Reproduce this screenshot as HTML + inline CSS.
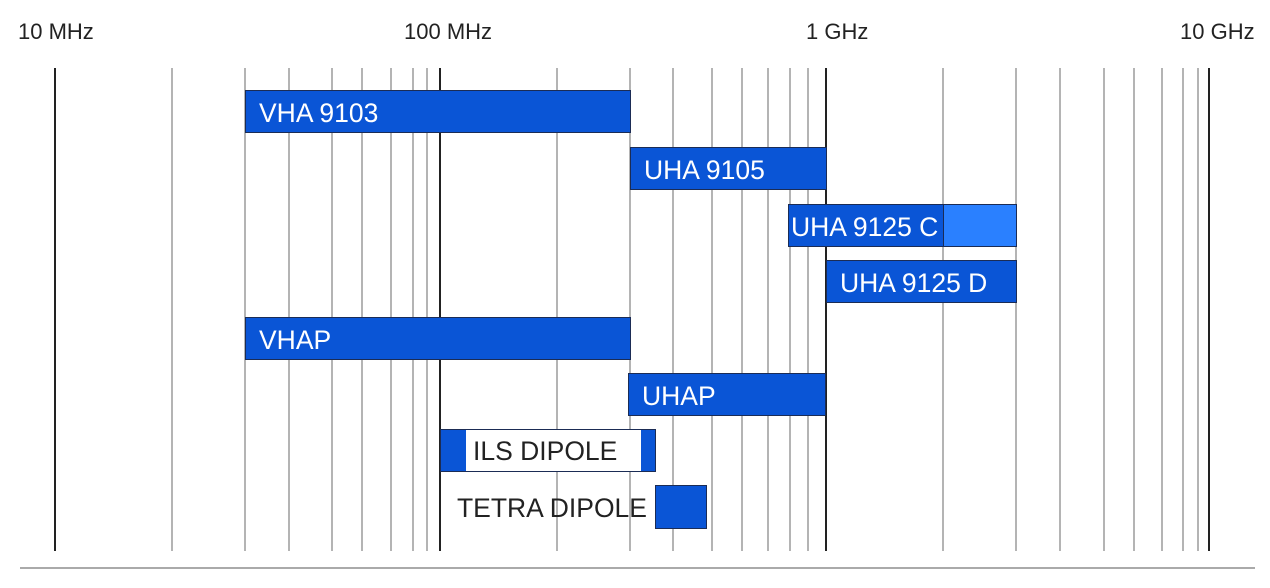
<!DOCTYPE html>
<html><head><style>
body{margin:0;width:1270px;height:588px;background:#fff;overflow:hidden;position:relative;font-family:"Liberation Sans",Arial,sans-serif}
.g{position:absolute;top:68px;height:483px;width:2px;background:#b4b4b4}
.d{background:#222;width:2px}
.b{position:absolute;background:#0a55d6;border:1px solid #1b2c55;box-sizing:border-box;color:#fff;font-size:26.5px;line-height:45px;padding-left:13px;white-space:nowrap}
.t{position:absolute;top:19px;font-size:22px;color:#222}
</style></head><body>
<div class="t" style="left:18px">10 MHz</div>
<div class="t" style="left:404px">100 MHz</div>
<div class="t" style="left:806px">1 GHz</div>
<div class="t" style="left:1180px">10 GHz</div>
<div class="g d" style="left:54px"></div>
<div class="g" style="left:171px"></div><div class="g" style="left:244px"></div><div class="g" style="left:288px"></div><div class="g" style="left:331px"></div><div class="g" style="left:361px"></div><div class="g" style="left:390px"></div><div class="g" style="left:412px"></div><div class="g" style="left:426px"></div>
<div class="g d" style="left:439px"></div>
<div class="g" style="left:556px"></div><div class="g" style="left:629px"></div><div class="g" style="left:672px"></div><div class="g" style="left:711px"></div><div class="g" style="left:741px"></div><div class="g" style="left:767px"></div><div class="g" style="left:789px"></div><div class="g" style="left:807px"></div>
<div class="g d" style="left:825px"></div>
<div class="g" style="left:942px"></div><div class="g" style="left:1015px"></div><div class="g" style="left:1059px"></div><div class="g" style="left:1103px"></div><div class="g" style="left:1133px"></div><div class="g" style="left:1161px"></div><div class="g" style="left:1182px"></div><div class="g" style="left:1197px"></div>
<div class="g d" style="left:1208px"></div>
<div style="position:absolute;left:20px;top:567px;width:1235px;height:2px;background:#aaa"></div>

<div class="b" style="left:245px;top:90px;width:386px;height:43px">VHA 9103</div>
<div class="b" style="left:630px;top:147px;width:197px;height:43px">UHA 9105</div>
<div class="b" style="left:788px;top:204px;width:229px;height:43px;padding-left:2px;background:linear-gradient(90deg,#0a55d6 0,#0a55d6 154px,#1b2c55 154px,#1b2c55 155px,#2a80ff 155px)">UHA 9125 C</div>
<div class="b" style="left:826px;top:260px;width:191px;height:43px">UHA 9125 D</div>
<div class="b" style="left:245px;top:317px;width:386px;height:43px">VHAP</div>
<div class="b" style="left:628px;top:373px;width:198px;height:43px">UHAP</div>
<div class="b" style="left:440px;top:429px;width:216px;height:43px;line-height:43px;color:#222;padding-left:32px;background:linear-gradient(90deg,#0a55d6 0,#0a55d6 25px,#fff 25px,#fff 200px,#0a55d6 200px)">ILS DIPOLE</div>
<div class="b" style="left:655px;top:485px;width:52px;height:44px"></div>
<div style="position:absolute;left:457px;top:493px;font-size:26.5px;color:#222">TETRA DIPOLE</div>
</body></html>
